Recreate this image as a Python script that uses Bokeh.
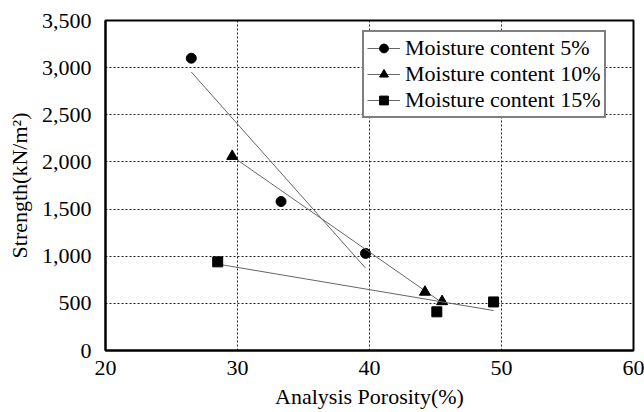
import numpy as np
from bokeh.plotting import figure
from bokeh.models import Legend, LegendItem, NumeralTickFormatter, FixedTicker, Range1d
from bokeh.embed import file_html
from bokeh.resources import INLINE

# Data
x5 = [26.5, 33.3, 39.7]
y5 = [3100, 1580, 1030]
x10 = [29.6, 44.2, 45.5]
y10 = [2060, 620, 520]
x15 = [28.5, 45.1, 49.4]
y15 = [940, 410, 515]
labels = ["Moisture content 5%", "Moisture content 10%", "Moisture content 15%"]
markers = ["circle", "triangle", "square"]
x_ticks = [20, 30, 40, 50, 60]
y_ticks = [0, 500, 1000, 1500, 2000, 2500, 3000, 3500]

FONT = "'Liberation Serif', 'Times New Roman', serif"

p = figure(width=644, height=412, output_backend="svg", toolbar_location=None,
           x_range=Range1d(20, 60), y_range=Range1d(0, 3500),
           min_border_left=105, min_border_right=11, min_border_top=20, min_border_bottom=62)
p.background_fill_color = "white"
p.border_fill_color = "white"
p.outline_line_color = "black"
p.outline_line_width = 2

for ax in (p.xaxis[0], p.yaxis[0]):
    ax.axis_line_color = "black"
    ax.axis_line_width = 2
    ax.major_tick_out = 0
    ax.major_tick_in = 0
    ax.minor_tick_out = 0
    ax.minor_tick_in = 0
    ax.major_label_text_font = FONT
    ax.major_label_text_font_size = "22px"
    ax.major_label_text_color = "black"
    ax.axis_label_text_font = FONT
    ax.axis_label_text_font_size = "22px"
    ax.axis_label_text_font_style = "normal"
    ax.axis_label_text_color = "black"

p.xaxis.ticker = FixedTicker(ticks=x_ticks)
p.yaxis.ticker = FixedTicker(ticks=y_ticks)
p.yaxis.formatter = NumeralTickFormatter(format="0,0")
p.xaxis.axis_label = "Analysis Porosity(%)"
p.yaxis.axis_label = "Strength(kN/m²)"
p.xaxis.major_label_standoff = 10
p.xaxis.axis_label_standoff = 6
p.yaxis.major_label_standoff = 14
p.yaxis.axis_label_standoff = 7

for g in (p.xgrid[0], p.ygrid[0]):
    g.grid_line_color = "#222222"
    g.grid_line_width = 1
    g.grid_line_dash = "2 2"

items = []
for xs, ys, lab, mk in zip([x5, x10, x15], [y5, y10, y15], labels, markers):
    k, b = np.polyfit(xs, ys, 1)
    lx = [min(xs), max(xs)]
    ly = [k * v + b for v in lx]
    lr = p.line(lx, ly, line_color="#666666", line_width=1)
    size = 10 if mk != "triangle" else 11
    sr = p.scatter(xs, ys, marker=mk, size=size, fill_color="black", line_color="black")
    items.append(LegendItem(label=lab, renderers=[lr, sr]))

legend = Legend(items=items, location=(257, 232))
legend.label_text_font = FONT
legend.label_text_font_size = "22px"
legend.label_text_color = "black"
legend.glyph_width = 33
legend.glyph_height = 22
legend.label_height = 22
legend.label_standoff = 5
legend.spacing = -1
legend.padding = 3
legend.margin = 0
legend.border_line_color = "black"
legend.border_line_width = 2
legend.background_fill_color = "white"
legend.background_fill_alpha = 1
p.add_layout(legend, "center")

open("out.html", "w").write(file_html(p, INLINE))
